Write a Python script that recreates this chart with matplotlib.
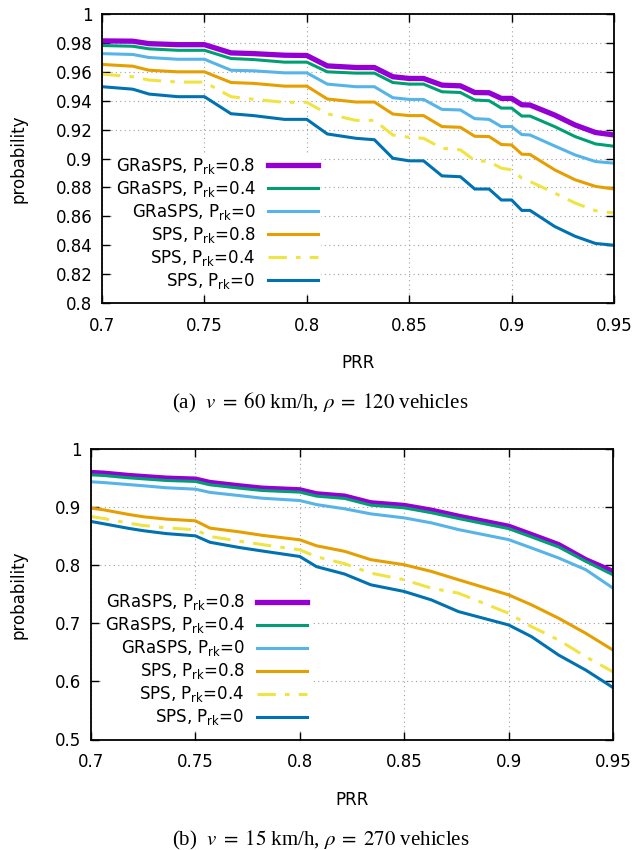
import matplotlib
matplotlib.use('Agg')
import matplotlib.pyplot as plt
from matplotlib import ticker
import numpy as np

plt.rcParams['font.family'] = ['DejaVu Sans']
plt.rcParams['mathtext.fontset'] = 'stix'

# ---- panel (a): v = 60 km/h, rho = 120 vehicles
prr_a = [0.700, 0.715, 0.723, 0.737, 0.750, 0.763, 0.774, 0.789, 0.800, 0.810,
         0.824, 0.833, 0.842, 0.850, 0.857, 0.866, 0.875, 0.882, 0.889, 0.895,
         0.900, 0.905, 0.909, 0.921, 0.931, 0.941, 0.950]
gra08_a = [0.9814, 0.9812, 0.9795, 0.9788, 0.9788, 0.9731, 0.9726, 0.9715, 0.9713, 0.9641,
           0.9630, 0.9630, 0.9566, 0.9554, 0.9554, 0.9508, 0.9503, 0.9457, 0.9455, 0.9416,
           0.9416, 0.9372, 0.9370, 0.9301, 0.9232, 0.9180, 0.9163]
gra04_a = [0.9782, 0.9777, 0.9759, 0.9749, 0.9749, 0.9692, 0.9685, 0.9667, 0.9667, 0.9600,
           0.9591, 0.9591, 0.9526, 0.9515, 0.9515, 0.9462, 0.9457, 0.9405, 0.9400, 0.9349,
           0.9349, 0.9294, 0.9294, 0.9221, 0.9152, 0.9101, 0.9085]
gra0_a = [0.9726, 0.9720, 0.9699, 0.9687, 0.9687, 0.9611, 0.9607, 0.9593, 0.9593, 0.9515,
          0.9497, 0.9497, 0.9421, 0.9409, 0.9409, 0.9340, 0.9336, 0.9276, 0.9271, 0.9221,
          0.9221, 0.9166, 0.9163, 0.9087, 0.9025, 0.8979, 0.8968]
sps08_a = [0.9651, 0.9639, 0.9611, 0.9600, 0.9600, 0.9526, 0.9520, 0.9501, 0.9501, 0.9412,
           0.9391, 0.9391, 0.9308, 0.9297, 0.9297, 0.9221, 0.9216, 0.9154, 0.9152, 0.9097,
           0.9094, 0.9030, 0.9028, 0.8922, 0.8853, 0.8807, 0.8789]
sps04_a = [0.9584, 0.9566, 0.9543, 0.9529, 0.9529, 0.9428, 0.9410, 0.9389, 0.9389, 0.9310,
           0.9264, 0.9264, 0.9163, 0.9147, 0.9140, 0.9071, 0.9060, 0.8986, 0.8979, 0.8933,
           0.8922, 0.8864, 0.8841, 0.8761, 0.8692, 0.8639, 0.8623]
sps0_a = [0.9497, 0.9480, 0.9446, 0.9428, 0.9428, 0.9310, 0.9297, 0.9271, 0.9271, 0.9170,
          0.9140, 0.9130, 0.9002, 0.8984, 0.8984, 0.8880, 0.8874, 0.8789, 0.8789, 0.8713,
          0.8713, 0.8641, 0.8641, 0.8530, 0.8462, 0.8412, 0.8400]

# ---- panel (b): v = 15 km/h, rho = 270 vehicles
prr_b = [0.700, 0.706, 0.718, 0.725, 0.736, 0.750, 0.757, 0.771, 0.782, 0.800,
         0.808, 0.8215, 0.834, 0.850, 0.863, 0.876, 0.900, 0.911, 0.924, 0.937, 0.950]
gra08_b = [0.9603, 0.9592, 0.9552, 0.9534, 0.9506, 0.9489, 0.9431, 0.9374, 0.9333, 0.9305,
           0.9236, 0.9196, 0.9081, 0.9035, 0.8954, 0.8850, 0.8677, 0.8533, 0.8360, 0.8100, 0.7898]
gra04_b = [0.9563, 0.9552, 0.9512, 0.9494, 0.9466, 0.9449, 0.9391, 0.9334, 0.9293, 0.9265,
           0.9196, 0.9156, 0.9040, 0.8994, 0.8910, 0.8810, 0.8636, 0.8492, 0.8319, 0.8071, 0.7840]
gra0_b = [0.9443, 0.9430, 0.9395, 0.9375, 0.9340, 0.9316, 0.9260, 0.9205, 0.9160, 0.9120,
          0.9050, 0.8977, 0.8890, 0.8821, 0.8735, 0.8619, 0.8446, 0.8302, 0.8129, 0.7927, 0.7610]
sps08_b = [0.8989, 0.8960, 0.8880, 0.8840, 0.8800, 0.8770, 0.8644, 0.8580, 0.8520, 0.8443,
           0.8340, 0.8244, 0.8100, 0.8013, 0.7898, 0.7754, 0.7494, 0.7321, 0.7090, 0.6830, 0.6542]
sps04_b = [0.8845, 0.8810, 0.8730, 0.8690, 0.8650, 0.8615, 0.8500, 0.8420, 0.8360, 0.8270,
           0.8150, 0.8031, 0.7869, 0.7754, 0.7609, 0.7523, 0.7177, 0.6946, 0.6715, 0.6426, 0.6167]
sps0_b = [0.8759, 0.8720, 0.8640, 0.8600, 0.8550, 0.8511, 0.8400, 0.8310, 0.8250, 0.8155,
          0.7980, 0.7852, 0.7667, 0.7552, 0.7407, 0.7205, 0.6975, 0.6773, 0.6455, 0.6196, 0.5896]

labels = [r'GRaSPS, P$\mathregular{_{rk}}$=0.8', r'GRaSPS, P$\mathregular{_{rk}}$=0.4',
          r'GRaSPS, P$\mathregular{_{rk}}$=0', r'SPS, P$\mathregular{_{rk}}$=0.8',
          r'SPS, P$\mathregular{_{rk}}$=0.4', r'SPS, P$\mathregular{_{rk}}$=0']
colors = ['#9400d3', '#009e73', '#56b4e9', '#e69f00', '#f0e442', '#0072b2']
widths = [3.8, 2.2, 2.2, 2.2, 2.2, 2.2]
styles = ['-', '-', '-', '-', (0, (6, 3, 1.5, 3)), '-']

fig = plt.figure(figsize=(6.36, 8.5), dpi=100)
ax1 = fig.add_axes([0.1604, 0.6435, 0.805, 0.34])
ax2 = fig.add_axes([0.1431, 0.1300, 0.8207, 0.3412])


def draw(ax, x, series, ylo, ystep, leg_anchor):
    for y, lab, c, lw, ls in zip(series, labels, colors, widths, styles):
        ax.plot(x, y, color=c, lw=lw, ls=ls, label=lab, solid_joinstyle='miter')
    ax.set_xlim(0.7, 0.95)
    ax.set_ylim(ylo, 1.0)
    ax.set_xticks(np.round(np.arange(0.7, 0.951, 0.05), 2))
    ax.set_yticks(np.round(np.arange(ylo, 1.0001, ystep), 2))
    ax.xaxis.set_major_formatter(ticker.FormatStrFormatter('%g'))
    ax.yaxis.set_major_formatter(ticker.FormatStrFormatter('%g'))
    ax.tick_params(direction='in', length=6, width=1, labelsize=12,
                   top=True, right=True)
    ax.tick_params(axis='x', pad=10)
    ax.tick_params(axis='y', pad=7)
    ax.grid(True, color='#a0a0a0', ls=(0, (1, 3)), lw=0.8)
    for s in ax.spines.values():
        s.set_linewidth(1.3)
    ax.set_xlabel('PRR', fontsize=12, labelpad=14)
    ax.set_ylabel('probability', fontsize=12, labelpad=20)
    leg = ax.legend(loc='lower left', bbox_to_anchor=leg_anchor, markerfirst=False,
                    fontsize=12, handlelength=3.0, handletextpad=0.75,
                    labelspacing=0.18, borderpad=0.2, borderaxespad=0,
                    frameon=True, fancybox=False)
    leg.get_frame().set_facecolor('white')
    leg.get_frame().set_edgecolor('none')
    leg.get_frame().set_alpha(1)


draw(ax1, prr_a, [gra08_a, gra04_a, gra0_a, sps08_a, sps04_a, sps0_a], 0.8, 0.02, (0.02, 0.03))
draw(ax2, prr_b, [gra08_b, gra04_b, gra0_b, sps08_b, sps04_b, sps0_b], 0.5, 0.1, (0.02, 0.03))

# captions below each panel
fig.text(0.504, 1 - 403 / 850, r'(a)  $v\;=\;60$ km/h, $\rho\;=\;120$ vehicles',
         ha='center', va='center', fontsize=15, family='Liberation Serif')
fig.text(0.504, 1 - 840 / 850, r'(b)  $v\;=\;15$ km/h, $\rho\;=\;270$ vehicles',
         ha='center', va='center', fontsize=15, family='Liberation Serif')

fig.savefig('out.png', dpi=100)
